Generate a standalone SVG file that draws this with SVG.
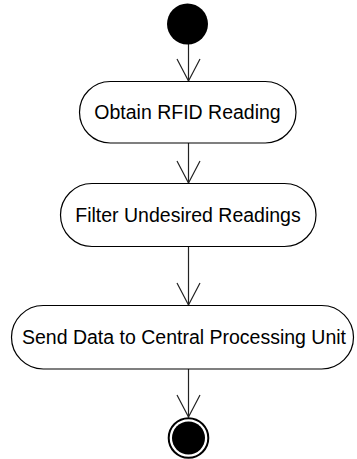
<svg xmlns="http://www.w3.org/2000/svg" width="357" height="459" viewBox="0 0 357 459">
  <defs>
    <!-- open V arrowhead, drawn along +x so orient="auto" follows the flow -->
    <marker id="open-arrow" markerUnits="userSpaceOnUse" markerWidth="26" markerHeight="26" viewBox="-24 -13 26 26" refX="0" refY="0" orient="auto" overflow="visible">
      <path d="M -22 -11.5 L 0 0 L -22 11.5" fill="none" stroke="#222" stroke-width="1.2"/>
    </marker>
    <style>
      .action { fill: #ffffff; stroke: #000000; stroke-width: 1.2; }
      .label { font-family: "Liberation Sans", Arial, sans-serif; font-size: 19.5px; fill: #000000; text-anchor: middle; }
      .flow { fill: none; stroke: #222; stroke-width: 1.2; marker-end: url(#open-arrow); }
    </style>
  </defs>

  <rect width="357" height="459" fill="#ffffff"/>

  <!-- control flows -->
  <g id="connectors">
    <path class="flow" d="M 188.5 44 V 81"/>
    <path class="flow" d="M 188.5 143 V 183"/>
    <path class="flow" d="M 188.5 247 V 305"/>
    <path class="flow" d="M 188.5 369 V 417"/>
  </g>

  <!-- initial node -->
  <g id="initial">
    <circle cx="187.5" cy="24" r="20.5" fill="#000000"/>
  </g>

  <g id="obtain-rfid-reading">
    <rect class="action" x="79.5" y="81.5" width="216.5" height="61.5" rx="30.75"/>
    <text class="label" x="187.5" y="119">Obtain RFID Reading</text>
  </g>

  <g id="filter-undesired-readings">
    <rect class="action" x="60.5" y="183.5" width="255.5" height="63" rx="31.5"/>
    <text class="label" x="188" y="222">Filter Undesired Readings</text>
  </g>

  <g id="send-data">
    <rect class="action" x="11.5" y="305.5" width="342" height="63.5" rx="31.75"/>
    <text class="label" x="184" y="344">Send Data to Central Processing Unit</text>
  </g>

  <!-- final node -->
  <g id="final">
    <circle cx="188.5" cy="438" r="19.8" fill="#ffffff" stroke="#000000" stroke-width="2"/>
    <circle cx="188.5" cy="438" r="16.5" fill="#000000"/>
  </g>
</svg>
